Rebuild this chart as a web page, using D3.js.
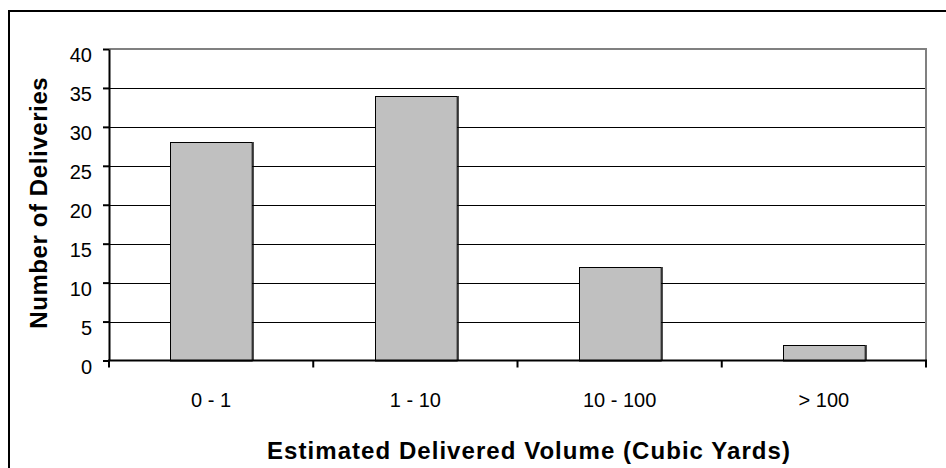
<!DOCTYPE html>
<html><head><meta charset="utf-8">
<script src="https://cdn.jsdelivr.net/npm/d3@7/dist/d3.min.js"></script>
<style>body{margin:0;background:#fff;}svg{display:block;font-family:"Liberation Sans",Arial,sans-serif;}</style>
</head><body>
<svg id="c" width="946" height="468"></svg>
<script>
const categories = ["0 - 1", "1 - 10", "10 - 100", "> 100"];
const deliveries = [28, 34, 12, 2];
const yTicks = [0, 5, 10, 15, 20, 25, 30, 35, 40];
const xTitle = "Estimated Delivered Volume (Cubic Yards)";
const yTitle = "Number of Deliveries";

const svg = d3.select("#c");
const L = 109, R = 926, T = 49, B = 360.5;

// outer chart border
svg.append("rect").attr("x", 9).attr("y", 11).attr("width", 960).attr("height", 480)
  .attr("fill", "#fff").attr("stroke", "#000").attr("stroke-width", 2);

const x = d3.scaleBand().domain(categories).range([L, R]).paddingInner(0.6).paddingOuter(0.3);
const xb = d3.scaleBand().domain(categories).range([L, R]).padding(0);
const y = d3.scaleLinear().domain([0, 40]).range([B, T]);

// gridlines
svg.append("g").selectAll("line").data(yTicks.filter(d => d > 0 && d < 40)).join("line")
  .attr("x1", L).attr("x2", R).attr("y1", d => Math.round(y(d)) + 0.5).attr("y2", d => Math.round(y(d)) + 0.5)
  .attr("stroke", "#000").attr("stroke-width", 1);

// plot border top/right (gray)
svg.append("path").attr("d", `M${L},${y(40)}H${R}V${B}`).attr("fill", "none")
  .attr("stroke", "#808080").attr("stroke-width", 2);

// bars
const bars = svg.append("g");
bars.selectAll("rect").data(deliveries).join("rect")
  .attr("x", (d, i) => Math.round(x(categories[i])) + 0.5)
  .attr("y", d => Math.round(y(d)) + 0.5)
  .attr("width", x.bandwidth())
  .attr("height", d => B - Math.round(y(d)))
  .attr("fill", "#c0c0c0").attr("stroke", "#000").attr("stroke-width", 1);
bars.selectAll("line").data(deliveries).join("line")
  .attr("x1", (d, i) => Math.round(x(categories[i])) + 0.5 + x.bandwidth() + 1)
  .attr("x2", (d, i) => Math.round(x(categories[i])) + 0.5 + x.bandwidth() + 1)
  .attr("y1", d => Math.round(y(d))).attr("y2", B)
  .attr("stroke", "#000").attr("stroke-width", 1);

// y axis
const yAxis = d3.axisLeft(y).tickValues(yTicks).tickSize(6).tickSizeOuter(0);
const gy = svg.append("g").attr("transform", `translate(${L},0)`).call(yAxis);
gy.select(".domain").attr("stroke", "#000").attr("stroke-width", 2);
gy.selectAll(".tick line").attr("stroke", "#000").attr("stroke-width", 2);
gy.selectAll(".tick text").attr("x", -17).attr("dy", null).attr("y", 12.8)
  .attr("font-size", 20).attr("fill", "#000").attr("font-family", "Liberation Sans, Arial, sans-serif");

// x axis
const gx = svg.append("g").attr("transform", `translate(0,${B})`);
gx.append("line").attr("x1", L - 1).attr("x2", R + 1).attr("y1", 0).attr("y2", 0)
  .attr("stroke", "#000").attr("stroke-width", 2);
const edges = categories.map(c => xb(c)).concat([R]);
gx.selectAll("line.t").data(edges).join("line").attr("class", "t")
  .attr("x1", d => d).attr("x2", d => d).attr("y1", 0).attr("y2", 7)
  .attr("stroke", "#000").attr("stroke-width", 2);
gx.selectAll("text").data(categories).join("text")
  .attr("x", d => x(d) + x.bandwidth() / 2).attr("y", 407.3 - B)
  .attr("text-anchor", "middle").attr("font-size", 20).text(d => d);

// titles
svg.append("text").attr("x", 529).attr("y", 459).attr("text-anchor", "middle")
  .attr("font-size", 24).attr("font-weight", "bold").attr("letter-spacing", 1.05).text(xTitle);
svg.append("text").attr("transform", `translate(46.5,${(T + B) / 2 - 2}) rotate(-90)`)
  .attr("text-anchor", "middle").attr("font-size", 24).attr("font-weight", "bold")
  .attr("letter-spacing", 0.6).text(yTitle);
</script>
</body></html>
